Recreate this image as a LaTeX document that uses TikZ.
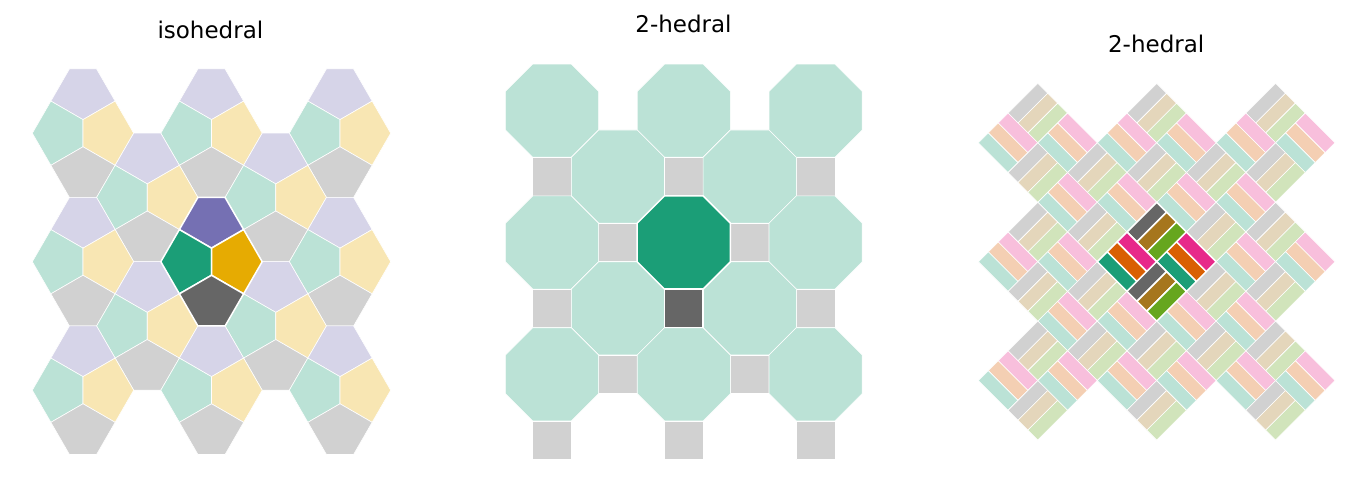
\documentclass[tikz,border=0pt]{standalone}
\usepackage{fontspec}
\setmainfont{DejaVu Sans}
\definecolor{dTeal}{HTML}{1B9E77}
\definecolor{dOrange}{HTML}{D95F02}
\definecolor{dPurple}{HTML}{7570B3}
\definecolor{dPink}{HTML}{E7298A}
\definecolor{dGreen}{HTML}{66A61E}
\definecolor{dYellow}{HTML}{E6AB02}
\definecolor{dBrown}{HTML}{A6761D}
\definecolor{dGray}{HTML}{666666}
\colorlet{lTeal}{dTeal!30}
\colorlet{lOrange}{dOrange!30}
\colorlet{lPurple}{dPurple!30}
\colorlet{lPink}{dPink!30}
\colorlet{lGreen}{dGreen!30}
\colorlet{lYellow}{dYellow!30}
\colorlet{lBrown}{dBrown!30}
\colorlet{lGray}{dGray!30}
\tikzset{
  lt/.style={draw=white, line width=0.6pt, line join=round},
  hl/.style={draw=white, line width=1.5pt, line join=round},
  ttl/.style={anchor=base, font=\fontsize{23}{27}\selectfont}
}
% Cairo cluster: four pentagons (units of the long side)
\newcommand\cairoCl[2]{%
  \filldraw[#2, fill=#1Purple] (0,-0.366) -- (0.866,-0.866) -- (0.366,-1.732) -- (-0.366,-1.732) -- (-0.866,-0.866) -- cycle;
  \filldraw[#2, fill=#1Teal] (0,-0.366) -- (-0.866,-0.866) -- (-1.366,0) -- (-0.866,0.866) -- (0,0.366) -- cycle;
  \filldraw[#2, fill=#1Yellow] (0,-0.366) -- (0.866,-0.866) -- (1.366,0) -- (0.866,0.866) -- (0,0.366) -- cycle;
  \filldraw[#2, fill=#1Gray] (0,0.366) -- (0.866,0.866) -- (0.366,1.732) -- (-0.366,1.732) -- (-0.866,0.866) -- cycle;
}
% octagon with square below (px units)
\newcommand\octCl[2]{%
  \filldraw[#2, fill=#1Teal] (-19.3,-46.6) -- (19.3,-46.6) -- (46.6,-19.3) -- (46.6,19.3) -- (19.3,46.6) -- (-19.3,46.6) -- (-46.6,19.3) -- (-46.6,-19.3) -- cycle;
  \filldraw[#2, fill=#1Gray] (-19.3,46.6) -- (19.3,46.6) -- (19.3,85.2) -- (-19.3,85.2) -- cycle;
}
% bar with corners (a1,b1),(a2,b2) in the rotated frame
\newcommand\barQ[6]{%
  \filldraw[#6, fill=#5] (#1,#2) -- (#3,#2) -- (#3,#4) -- (#1,#4) -- cycle;
}
% herringbone unit: twelve bars (units of the bar width)
\newcommand\hbCl[2]{%
  \barQ{0}{0}{1}{3}{#1Gray}{#2}
  \barQ{1}{0}{2}{3}{#1Brown}{#2}
  \barQ{2}{0}{3}{3}{#1Green}{#2}
  \barQ{3}{0}{6}{1}{#1Pink}{#2}
  \barQ{3}{1}{6}{2}{#1Orange}{#2}
  \barQ{3}{2}{6}{3}{#1Teal}{#2}
  \barQ{0}{3}{3}{4}{#1Pink}{#2}
  \barQ{0}{4}{3}{5}{#1Orange}{#2}
  \barQ{0}{5}{3}{6}{#1Teal}{#2}
  \barQ{3}{3}{4}{6}{#1Gray}{#2}
  \barQ{4}{3}{5}{6}{#1Brown}{#2}
  \barQ{5}{3}{6}{6}{#1Green}{#2}
}
\begin{document}
\begin{tikzpicture}[x=1pt, y=-1pt]
  \fill[white] (0,0) rectangle (1367,494);
  \useasboundingbox (0,0) rectangle (1367,494);
  % ---------- panel 1: isohedral (Cairo) ----------
  \foreach \p/\q in {-2/-2,0/-2,2/-2,-1/-1,1/-1,-2/0,0/0,2/0,-1/1,1/1,-2/2,0/2,2/2}{
    \begin{scope}[shift={({211.5+64.25*\p},{261.7+64.25*\q})}, x=37.1pt, y=-37.1pt]
      \cairoCl{l}{lt}
    \end{scope}
  }
  \begin{scope}[shift={(211.5,261.7)}, x=37.1pt, y=-37.1pt]
    \cairoCl{d}{hl}
  \end{scope}
  % ---------- panel 2: octagons and squares ----------
  \foreach \p/\q in {-2/-2,0/-2,2/-2,-1/-1,1/-1,-2/0,0/0,2/0,-1/1,1/1,-2/2,0/2,2/2}{
    \begin{scope}[shift={({683.8+65.9*\p},{242.5+65.9*\q})}]
      \octCl{l}{lt}
    \end{scope}
  }
  \begin{scope}[shift={(683.8,242.5)}]
    \octCl{d}{hl}
  \end{scope}
  % ---------- panel 3: herringbone bars ----------
  \foreach \p/\q in {-2/-2,0/-2,2/-2,-1/-1,1/-1,-2/0,0/0,2/0,-1/1,1/1,-2/2,0/2,2/2}{
    \begin{scope}[shift={({1156.7+59.44*\p},{202.26+59.44*\q})}, x={(9.907pt,-9.907pt)}, y={(-9.907pt,-9.907pt)}]
      \hbCl{l}{lt}
    \end{scope}
  }
  \begin{scope}[shift={(1156.7,202.26)}, x={(9.907pt,-9.907pt)}, y={(-9.907pt,-9.907pt)}]
    \hbCl{d}{hl}
  \end{scope}
  % ---------- titles ----------
  \node[ttl] (t1) at (210.4,38.3) {isohedral};
  \node[ttl] (t2) at (683.5,32.3) {2-hedral};
  \node[ttl] (t3) at (1156.2,52.3) {2-hedral};
\end{tikzpicture}
\end{document}
